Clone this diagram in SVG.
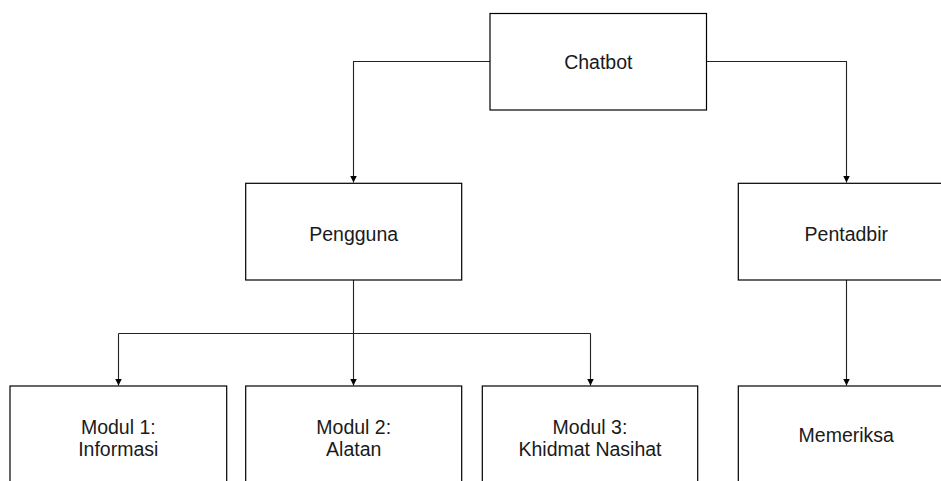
<svg xmlns="http://www.w3.org/2000/svg" width="941" height="481" viewBox="0 0 941 481">
<style>
.box{fill:#fff;stroke:#000;stroke-width:1.2}
.lbl{font-family:"Liberation Sans",Arial,sans-serif;font-size:19.5px;fill:#1a1a1a;text-anchor:middle}
.con{fill:none;stroke:#222;stroke-width:1.1}
</style>
<defs>
<marker id="ah" markerWidth="8" markerHeight="8" refX="7" refY="4" orient="auto" markerUnits="userSpaceOnUse">
<path d="M0,0.5 L7,4 L0,7.5 Z" fill="#000"/>
</marker>
</defs>
<rect width="941" height="481" fill="#fff"/>
<g id="connectors">
<path class="con" d="M490,61.5 H353.5 V182.5" marker-end="url(#ah)"/>
<path class="con" d="M706.5,61.5 H846.5 V182.5" marker-end="url(#ah)"/>
<path class="con" d="M353.5,280 V333.5"/>
<path class="con" d="M118.5,333.5 H590.5"/>
<path class="con" d="M118.5,333.5 V385.5" marker-end="url(#ah)"/>
<path class="con" d="M353.5,333.5 V385.5" marker-end="url(#ah)"/>
<path class="con" d="M590.5,333.5 V385.5" marker-end="url(#ah)"/>
<path class="con" d="M846.5,280 V385.5" marker-end="url(#ah)"/>
</g>
<g id="chatbot">
<rect class="box" x="490" y="13.5" width="216.5" height="96.5"/>
<text class="lbl" x="598.3" y="69">Chatbot</text>
</g>
<g id="pengguna">
<rect class="box" x="245.7" y="183.3" width="216" height="96.7"/>
<text class="lbl" x="353.7" y="240.5">Pengguna</text>
</g>
<g id="pentadbir">
<rect class="box" x="738.3" y="183.3" width="216" height="96.7"/>
<text class="lbl" x="846.3" y="240.5">Pentadbir</text>
</g>
<g id="modul1">
<rect class="box" x="10" y="386" width="216.7" height="110"/>
<text class="lbl" x="118.3" y="433.5">Modul 1:</text>
<text class="lbl" x="118.3" y="455.5">Informasi</text>
</g>
<g id="modul2">
<rect class="box" x="245.7" y="386" width="216" height="110"/>
<text class="lbl" x="353.7" y="433.5">Modul 2:</text>
<text class="lbl" x="353.7" y="455.5">Alatan</text>
</g>
<g id="modul3">
<rect class="box" x="482.3" y="386" width="215.4" height="110"/>
<text class="lbl" x="590" y="433.5">Modul 3:</text>
<text class="lbl" x="590" y="455.5">Khidmat Nasihat</text>
</g>
<g id="memeriksa">
<rect class="box" x="738.3" y="386" width="216" height="110"/>
<text class="lbl" x="846.3" y="441.5">Memeriksa</text>
</g>
</svg>
